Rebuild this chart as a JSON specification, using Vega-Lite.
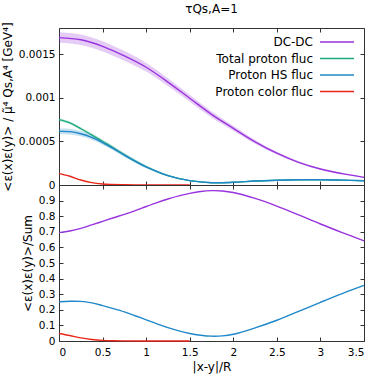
{
  "$schema": "https://vega.github.io/schema/vega-lite/v6.json",
  "padding": {"left": 0, "top": 2, "right": 4, "bottom": 2},
  "spacing": 0,
  "bounds": "flush",
  "config": {
    "font": "DejaVu Sans",
    "view": {"stroke": "#333333", "strokeWidth": 1},
    "axis": {
      "domain": false,
      "grid": false,
      "tickSize": -4,
      "tickColor": "#333333",
      "labelFontSize": 10.5,
      "labelColor": "#000000",
      "labelPadding": 8,
      "titleFontSize": 12,
      "titleFontWeight": "normal",
      "titleColor": "#000000"
    },
    "title": {"fontSize": 12, "fontWeight": "normal", "color": "#000000"}
  },
  "datasets": {
    "top": [
      {"x": 0, "series": "DC-DC", "v": 0.00169, "lo": 0.00163, "hi": 0.00175},
      {"x": 0.25, "series": "DC-DC", "v": 0.001665, "lo": 0.001605, "hi": 0.001725},
      {"x": 0.5, "series": "DC-DC", "v": 0.00159, "lo": 0.001532, "hi": 0.001648},
      {"x": 0.75, "series": "DC-DC", "v": 0.00148, "lo": 0.001425, "hi": 0.001535},
      {"x": 1.0, "series": "DC-DC", "v": 0.00135, "lo": 0.0013, "hi": 0.0014},
      {"x": 1.25, "series": "DC-DC", "v": 0.00118, "lo": 0.001135, "hi": 0.001225},
      {"x": 1.5, "series": "DC-DC", "v": 0.000995, "lo": 0.000955, "hi": 0.001035},
      {"x": 1.75, "series": "DC-DC", "v": 0.00081, "lo": 0.000775, "hi": 0.000845},
      {"x": 2.0, "series": "DC-DC", "v": 0.00065, "lo": 0.000622, "hi": 0.000678},
      {"x": 2.25, "series": "DC-DC", "v": 0.000495, "lo": 0.000473, "hi": 0.000517},
      {"x": 2.5, "series": "DC-DC", "v": 0.000365, "lo": 0.000349, "hi": 0.000381},
      {"x": 2.75, "series": "DC-DC", "v": 0.00026, "lo": 0.000248, "hi": 0.000272},
      {"x": 3.0, "series": "DC-DC", "v": 0.000183, "lo": 0.000174, "hi": 0.000192},
      {"x": 3.25, "series": "DC-DC", "v": 0.00013, "lo": 0.000123, "hi": 0.000137},
      {"x": 3.5, "series": "DC-DC", "v": 0.000088, "lo": 0.000083, "hi": 0.000093},

      {"x": 0, "series": "Total proton fluc", "v": 0.000749, "lo": 0.000734, "hi": 0.000764},
      {"x": 0.125, "series": "Total proton fluc", "v": 0.000712, "lo": 0.000696, "hi": 0.000728},
      {"x": 0.25, "series": "Total proton fluc", "v": 0.000645, "lo": 0.000627, "hi": 0.000663},
      {"x": 0.375, "series": "Total proton fluc", "v": 0.000575, "lo": 0.000555, "hi": 0.000595},
      {"x": 0.5, "series": "Total proton fluc", "v": 0.000499, "lo": 0.000477, "hi": 0.000521},
      {"x": 0.625, "series": "Total proton fluc", "v": 0.000424, "lo": 0.000403, "hi": 0.000445},
      {"x": 0.75, "series": "Total proton fluc", "v": 0.000346, "lo": 0.000326, "hi": 0.000366},
      {"x": 0.875, "series": "Total proton fluc", "v": 0.000274, "lo": 0.000257, "hi": 0.000291},
      {"x": 1.0, "series": "Total proton fluc", "v": 0.000209, "lo": 0.000195, "hi": 0.000223},
      {"x": 1.25, "series": "Total proton fluc", "v": 0.000108, "lo": 0.000099, "hi": 0.000117},
      {"x": 1.5, "series": "Total proton fluc", "v": 0.00005, "lo": 0.000045, "hi": 0.000055},
      {"x": 1.75, "series": "Total proton fluc", "v": 0.000026, "lo": 0.000023, "hi": 0.000029},
      {"x": 2.0, "series": "Total proton fluc", "v": 0.000031, "lo": 0.000028, "hi": 0.000034},
      {"x": 2.25, "series": "Total proton fluc", "v": 0.000046, "lo": 0.000043, "hi": 0.000049},
      {"x": 2.5, "series": "Total proton fluc", "v": 0.000055, "lo": 0.000052, "hi": 0.000058},
      {"x": 2.75, "series": "Total proton fluc", "v": 0.00006, "lo": 0.000057, "hi": 0.000063},
      {"x": 3.0, "series": "Total proton fluc", "v": 0.00006, "lo": 0.000057, "hi": 0.000063},
      {"x": 3.25, "series": "Total proton fluc", "v": 0.000056, "lo": 0.000053, "hi": 0.000059},
      {"x": 3.5, "series": "Total proton fluc", "v": 0.000049, "lo": 0.000046, "hi": 0.000052},

      {"x": 0, "series": "Proton HS fluc", "v": 0.000615, "lo": 0.000583, "hi": 0.000647},
      {"x": 0.125, "series": "Proton HS fluc", "v": 0.000612, "lo": 0.00058, "hi": 0.000644},
      {"x": 0.25, "series": "Proton HS fluc", "v": 0.000588, "lo": 0.000558, "hi": 0.000618},
      {"x": 0.375, "series": "Proton HS fluc", "v": 0.000546, "lo": 0.000518, "hi": 0.000574},
      {"x": 0.5, "series": "Proton HS fluc", "v": 0.000487, "lo": 0.000461, "hi": 0.000513},
      {"x": 0.625, "series": "Proton HS fluc", "v": 0.000418, "lo": 0.000395, "hi": 0.000441},
      {"x": 0.75, "series": "Proton HS fluc", "v": 0.000343, "lo": 0.000323, "hi": 0.000363},
      {"x": 0.875, "series": "Proton HS fluc", "v": 0.000272, "lo": 0.000255, "hi": 0.000289},
      {"x": 1.0, "series": "Proton HS fluc", "v": 0.000208, "lo": 0.000194, "hi": 0.000222},
      {"x": 1.25, "series": "Proton HS fluc", "v": 0.000108, "lo": 0.000099, "hi": 0.000117},
      {"x": 1.5, "series": "Proton HS fluc", "v": 0.00005, "lo": 0.000045, "hi": 0.000055},
      {"x": 1.75, "series": "Proton HS fluc", "v": 0.000026, "lo": 0.000023, "hi": 0.000029},
      {"x": 2.0, "series": "Proton HS fluc", "v": 0.000031, "lo": 0.000028, "hi": 0.000034},
      {"x": 2.25, "series": "Proton HS fluc", "v": 0.000046, "lo": 0.000043, "hi": 0.000049},
      {"x": 2.5, "series": "Proton HS fluc", "v": 0.000055, "lo": 0.000052, "hi": 0.000058},
      {"x": 2.75, "series": "Proton HS fluc", "v": 0.00006, "lo": 0.000057, "hi": 0.000063},
      {"x": 3.0, "series": "Proton HS fluc", "v": 0.00006, "lo": 0.000057, "hi": 0.000063},
      {"x": 3.25, "series": "Proton HS fluc", "v": 0.000056, "lo": 0.000053, "hi": 0.000059},
      {"x": 3.5, "series": "Proton HS fluc", "v": 0.000049, "lo": 0.000046, "hi": 0.000052},

      {"x": 0, "series": "Proton color fluc", "v": 0.000134},
      {"x": 0.125, "series": "Proton color fluc", "v": 0.0001},
      {"x": 0.25, "series": "Proton color fluc", "v": 0.000057},
      {"x": 0.375, "series": "Proton color fluc", "v": 0.000027},
      {"x": 0.5, "series": "Proton color fluc", "v": 0.000012},
      {"x": 0.75, "series": "Proton color fluc", "v": 0.000003},
      {"x": 1.0, "series": "Proton color fluc", "v": 0.000001},
      {"x": 1.25, "series": "Proton color fluc", "v": 0},
      {"x": 1.5, "series": "Proton color fluc", "v": 0}
    ],
    "ratio": [
      {"x": 0, "series": "DC-DC", "r": 0.695},
      {"x": 0.125, "series": "DC-DC", "r": 0.705},
      {"x": 0.25, "series": "DC-DC", "r": 0.722},
      {"x": 0.375, "series": "DC-DC", "r": 0.744},
      {"x": 0.5, "series": "DC-DC", "r": 0.767},
      {"x": 0.625, "series": "DC-DC", "r": 0.79},
      {"x": 0.75, "series": "DC-DC", "r": 0.812},
      {"x": 0.875, "series": "DC-DC", "r": 0.836},
      {"x": 1.0, "series": "DC-DC", "r": 0.862},
      {"x": 1.125, "series": "DC-DC", "r": 0.887},
      {"x": 1.25, "series": "DC-DC", "r": 0.91},
      {"x": 1.375, "series": "DC-DC", "r": 0.93},
      {"x": 1.5, "series": "DC-DC", "r": 0.946},
      {"x": 1.625, "series": "DC-DC", "r": 0.958},
      {"x": 1.75, "series": "DC-DC", "r": 0.964},
      {"x": 1.875, "series": "DC-DC", "r": 0.962},
      {"x": 2.0, "series": "DC-DC", "r": 0.952},
      {"x": 2.25, "series": "DC-DC", "r": 0.914},
      {"x": 2.5, "series": "DC-DC", "r": 0.865},
      {"x": 2.75, "series": "DC-DC", "r": 0.808},
      {"x": 3.0, "series": "DC-DC", "r": 0.75},
      {"x": 3.25, "series": "DC-DC", "r": 0.695},
      {"x": 3.5, "series": "DC-DC", "r": 0.642},

      {"x": 0, "series": "Proton HS fluc", "r": 0.252},
      {"x": 0.125, "series": "Proton HS fluc", "r": 0.255},
      {"x": 0.25, "series": "Proton HS fluc", "r": 0.254},
      {"x": 0.375, "series": "Proton HS fluc", "r": 0.244},
      {"x": 0.5, "series": "Proton HS fluc", "r": 0.227},
      {"x": 0.625, "series": "Proton HS fluc", "r": 0.208},
      {"x": 0.75, "series": "Proton HS fluc", "r": 0.187},
      {"x": 0.875, "series": "Proton HS fluc", "r": 0.162},
      {"x": 1.0, "series": "Proton HS fluc", "r": 0.136},
      {"x": 1.125, "series": "Proton HS fluc", "r": 0.11},
      {"x": 1.25, "series": "Proton HS fluc", "r": 0.086},
      {"x": 1.375, "series": "Proton HS fluc", "r": 0.065},
      {"x": 1.5, "series": "Proton HS fluc", "r": 0.048},
      {"x": 1.625, "series": "Proton HS fluc", "r": 0.037},
      {"x": 1.75, "series": "Proton HS fluc", "r": 0.031},
      {"x": 1.875, "series": "Proton HS fluc", "r": 0.033},
      {"x": 2.0, "series": "Proton HS fluc", "r": 0.043},
      {"x": 2.25, "series": "Proton HS fluc", "r": 0.084},
      {"x": 2.5, "series": "Proton HS fluc", "r": 0.133},
      {"x": 2.75, "series": "Proton HS fluc", "r": 0.19},
      {"x": 3.0, "series": "Proton HS fluc", "r": 0.248},
      {"x": 3.25, "series": "Proton HS fluc", "r": 0.304},
      {"x": 3.5, "series": "Proton HS fluc", "r": 0.356},

      {"x": 0, "series": "Proton color fluc", "r": 0.048},
      {"x": 0.125, "series": "Proton color fluc", "r": 0.035},
      {"x": 0.25, "series": "Proton color fluc", "r": 0.02},
      {"x": 0.375, "series": "Proton color fluc", "r": 0.01},
      {"x": 0.5, "series": "Proton color fluc", "r": 0.004},
      {"x": 0.625, "series": "Proton color fluc", "r": 0.0015},
      {"x": 0.75, "series": "Proton color fluc", "r": 0.0006},
      {"x": 1.0, "series": "Proton color fluc", "r": 0.0001},
      {"x": 1.25, "series": "Proton color fluc", "r": 0},
      {"x": 1.5, "series": "Proton color fluc", "r": 0}
    ]
  },
  "vconcat": [
    {
      "width": 305,
      "height": 157,
      "title": {"text": "τQs,A=1", "fontSize": 12, "fontWeight": "normal", "anchor": "middle", "offset": 6},
      "data": {"name": "top"},
      "layer": [
        {
          "mark": {"type": "area", "opacity": 0.25, "interpolate": "catmull-rom"},
          "encoding": {
            "x": {"field": "x", "type": "quantitative", "scale": {"domain": [0, 3.5], "nice": false},
                  "axis": {"orient": "top", "labels": false, "title": null, "values": [0, 0.5, 1, 1.5, 2, 2.5, 3, 3.5]}},
            "y": {"field": "lo", "type": "quantitative", "stack": null, "scale": {"domain": [0, 0.0018], "nice": false},
                  "axis": {"orient": "right", "labels": false, "title": null, "values": [0, 0.0005, 0.001, 0.0015]}},
            "y2": {"field": "hi"},
            "color": {"field": "series", "type": "nominal",
                      "scale": {"domain": ["DC-DC", "Total proton fluc", "Proton HS fluc", "Proton color fluc"],
                                "range": ["#9933dd", "#1faa80", "#1f88c8", "#e8261a"]},
                      "legend": {"orient": "none", "legendX": 272, "legendY": 8, "title": null, "direction": "vertical",
                                 "symbolType": "M-3.4,0H3.4", "symbolSize": 100, "symbolStrokeWidth": 1.5, "symbolOpacity": 1,
                                 "labelAlign": "right", "labelOffset": -30, "labelFontSize": 12, "labelColor": "#000000",
                                 "rowPadding": 4.5, "padding": 0}}
          }
        },
        {
          "mark": {"type": "line", "strokeWidth": 1.4, "interpolate": "catmull-rom"},
          "encoding": {
            "x": {"field": "x", "type": "quantitative",
                  "axis": {"orient": "bottom", "labels": false, "title": null, "values": [0, 0.5, 1, 1.5, 2, 2.5, 3, 3.5]}},
            "y": {"field": "v", "type": "quantitative",
                  "axis": {"orient": "left", "format": "~g", "values": [0, 0.0005, 0.001, 0.0015], "title": "<ε(x)ε(y)> / μ̃⁴ Qs,A⁴ [GeV⁴]"}},
            "color": {"field": "series", "type": "nominal",
                      "legend": {"orient": "none", "legendX": 272, "legendY": 8, "title": null, "direction": "vertical",
                                 "symbolType": "M-3.4,0H3.4", "symbolSize": 100, "symbolStrokeWidth": 1.5, "symbolOpacity": 1,
                                 "labelAlign": "right", "labelOffset": -30, "labelFontSize": 12, "labelColor": "#000000",
                                 "rowPadding": 4.5, "padding": 0}}
          }
        }
      ]
    },
    {
      "width": 305,
      "height": 156,
      "data": {"name": "ratio"},
      "layer": [
        {
          "mark": {"type": "point", "opacity": 0},
          "encoding": {
            "x": {"field": "x", "type": "quantitative", "scale": {"domain": [0, 3.5], "nice": false},
                  "axis": {"orient": "top", "labels": false, "title": null, "values": [0, 0.5, 1, 1.5, 2, 2.5, 3, 3.5]}},
            "y": {"field": "r", "type": "quantitative", "scale": {"domain": [0, 1], "nice": false},
                  "axis": {"orient": "right", "labels": false, "title": null, "values": [0, 0.1, 0.2, 0.3, 0.4, 0.5, 0.6, 0.7, 0.8, 0.9]}}
          }
        },
        {
          "mark": {"type": "line", "strokeWidth": 1.4, "interpolate": "catmull-rom"},
          "encoding": {
            "x": {"field": "x", "type": "quantitative",
                  "axis": {"orient": "bottom", "format": "~g", "labelPadding": 10, "values": [0, 0.5, 1, 1.5, 2, 2.5, 3, 3.5], "title": "|x-y|/R"}},
            "y": {"field": "r", "type": "quantitative",
                  "axis": {"orient": "left", "format": "~g", "values": [0, 0.1, 0.2, 0.3, 0.4, 0.5, 0.6, 0.7, 0.8, 0.9], "title": "<ε(x)ε(y)>/Sum"}},
            "color": {"field": "series", "type": "nominal", "legend": null}
          }
        }
      ]
    }
  ]
}
